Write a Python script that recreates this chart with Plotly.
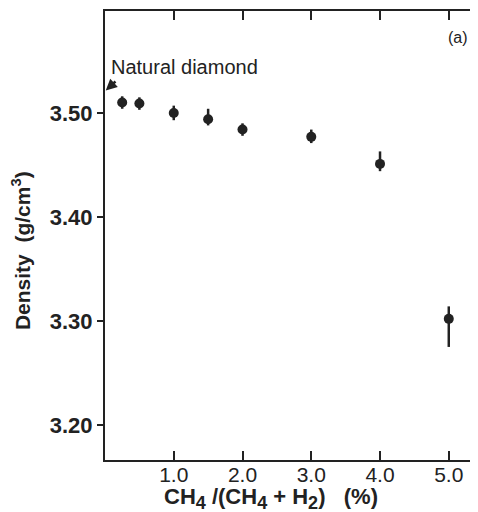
import plotly.graph_objects as go

ch4_pct = [0.25, 0.5, 1.0, 1.5, 2.0, 3.0, 4.0, 5.0]
density = [3.510, 3.509, 3.500, 3.494, 3.484, 3.477, 3.451, 3.302]
err_plus = [0.006, 0.006, 0.007, 0.010, 0.006, 0.007, 0.012, 0.012]
err_minus = [0.006, 0.006, 0.007, 0.006, 0.006, 0.006, 0.007, 0.027]

x_ticks = [1.0, 2.0, 3.0, 4.0, 5.0]
x_labels = ["1.0", "2.0", "3.0", "4.0", "5.0"]
y_ticks = [3.20, 3.30, 3.40, 3.50]
y_labels = ["3.20", "3.30", "3.40", "3.50"]
natural_diamond = 3.521

ink = "#222222"
font = "Liberation Sans, Arial, sans-serif"

fig = go.Figure()
fig.add_trace(go.Scatter(
    x=ch4_pct, y=density, mode="markers",
    marker=dict(color=ink, size=10),
    error_y=dict(type="data", symmetric=False, array=err_plus, arrayminus=err_minus,
                 color=ink, thickness=2.5, width=0),
    showlegend=False,
))

fig.add_annotation(
    x=0, y=natural_diamond, xref="x", yref="y",
    ax=12, ay=-11, axref="pixel", ayref="pixel",
    showarrow=True, arrowhead=2, arrowsize=0.9, arrowwidth=2.5, arrowcolor=ink,
    text="", standoff=1,
)
fig.add_annotation(
    x=0.06, y=3.544, xref="x", yref="y", xanchor="left", yanchor="middle",
    text="Natural diamond", showarrow=False,
    font=dict(family=font, size=20, color=ink),
)
fig.add_annotation(
    x=0.946, y=0.942, xref="paper", yref="paper", xanchor="center", yanchor="middle",
    text="(a)", showarrow=False,
    font=dict(family=font, size=16, color=ink),
)
sub = "<sub><span style='font-size:18px'>{}</span></sub>"
fig.add_annotation(
    x=0.445, y=-0.086, xref="paper", yref="paper", xanchor="center", yanchor="middle",
    text="<b>CH" + sub.format("4") + " /(CH" + sub.format("4") + " + H" + sub.format("2")
         + ")&nbsp;&nbsp;&nbsp;(%)</b>",
    showarrow=False, font=dict(family=font, size=22, color=ink),
)
fig.add_annotation(
    x=-0.225, y=0.4655, xref="paper", yref="paper", xanchor="center", yanchor="middle",
    textangle=-90,
    text="<b>Density&nbsp;&nbsp;(g/cm<sup>3</sup>)</b>",
    showarrow=False, font=dict(family=font, size=21, color=ink),
)

# The page body adds an 8px margin, so the figure is 8px smaller than the window.
fig.update_layout(
    width=470, height=504,
    margin=dict(l=97, r=0, t=3, b=52),
    paper_bgcolor="white", plot_bgcolor="white",
    font=dict(family=font, color=ink),
    xaxis=dict(
        range=[0, 5.425], tickvals=x_ticks, ticktext=x_labels,
        ticks="inside", ticklen=9, tickwidth=2, tickcolor=ink,
        showline=True, linecolor=ink, linewidth=2, mirror="ticks",
        showgrid=False, zeroline=False, ticklabelstandoff=-5,
        tickfont=dict(family=font, size=21, color=ink),
    ),
    yaxis=dict(
        range=[3.1663, 3.598], tickvals=y_ticks, ticktext=y_labels,
        ticks="outside", ticklen=6, tickwidth=2, tickcolor=ink,
        showline=True, linecolor=ink, linewidth=2, mirror=False,
        showgrid=False, zeroline=False,
        tickfont=dict(family=font, size=22, color=ink, weight="bold"),
    ),
)

fig.write_html("out.html")
